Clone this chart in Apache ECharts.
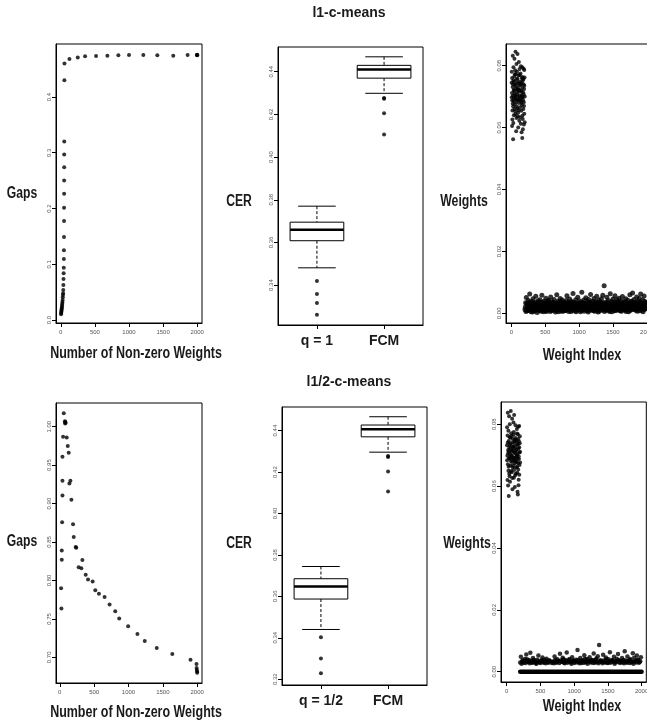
<!DOCTYPE html>
<html>
<head>
<meta charset="utf-8">
<script src="https://cdn.jsdelivr.net/npm/echarts@6/dist/echarts.min.js"></script>
<style>
  html, body { margin: 0; padding: 0; background: #fff; }
  #main { width: 647px; height: 728px; }
</style>
</head>
<body>
<div id="main"></div>
<script>
// ---- data ----
// gaps vs number of non-zero weights, l1
var gapPointsL1 = [
  [4,0.0105],[6,0.0125],[8,0.0142],[10,0.0165],[12,0.0185],[14,0.0210],[17,0.0235],[19,0.0262],
  [22,0.0290],[24,0.0322],[27,0.0359],[29,0.0407],[32,0.0448],[34,0.0478],[36,0.0538],[38,0.0628],
  [40,0.0735],[42,0.0837],[44,0.0939],[45,0.1094],[46,0.1250],[47,0.1489],[48,0.1776],[48,0.2015],
  [49,0.2266],[49,0.2500],[50,0.2740],[50,0.2966],[51,0.3200],[53,0.4300],[54,0.4600],[127,0.4680],
  [249,0.4710],[356,0.4730],[517,0.4735],[683,0.4740],[844,0.4747],[1000,0.4753],[1210,0.4753],
  [1415,0.4747],[1649,0.4740],[1859,0.4753],[1995,0.4753],[2000,0.4757],[2000,0.4748]
];
// gaps vs number of non-zero weights, l1/2
var gapPointsL12 = [
  [58,1.0174],[75,1.0070],[80,1.0060],[85,1.0050],[78,1.0040],[48,0.9870],[101,0.9860],[116,0.9750],
  [130,0.9660],[39,0.9610],[39,0.9296],[155,0.9296],[140,0.9260],[39,0.9104],[169,0.9050],[34,0.8757],
  [193,0.8730],[203,0.8565],[232,0.8435],[240,0.8425],[29,0.8390],[29,0.8270],[329,0.8265],[275,0.8170],
  [314,0.8160],[377,0.8074],[411,0.8013],[478,0.7987],[517,0.7874],[570,0.7826],[652,0.7783],[725,0.7687],
  [807,0.7600],[865,0.7504],[995,0.7404],[1130,0.7304],[1237,0.7213],[1411,0.7122],[1638,0.7043],
  [1903,0.6970],[19,0.7900],[24,0.7635],[1990,0.6913],[1992,0.6860],[1995,0.6835],[1998,0.6815],[2000,0.6800]
];

// CER boxplots: [lower whisker, q1, median, q3, upper whisker]
var cerGroupsL1 = ['q = 1', 'FCM'];
var cerBoxL1 = [
  [0.3481, 0.3608, 0.3659, 0.3695, 0.3770],
  [0.4299, 0.4370, 0.4411, 0.4430, 0.4470]
];
var cerOutL1 = [
  [0.3419, 0.3358, 0.3316, 0.3261],
  [0.4277, 0.4273, 0.4205, 0.4106]
];
var cerGroupsL12 = ['q = 1/2', 'FCM'];
var cerBoxL12 = [
  [0.3440, 0.3587, 0.3648, 0.3685, 0.3744],
  [0.4296, 0.4370, 0.4406, 0.4427, 0.4467]
];
var cerOutL12 = [
  [0.3402, 0.3300, 0.3229],
  [0.4277, 0.4273, 0.4203, 0.4106]
];

// weights, l1: first 200 indices
var weightClusterL1 = [
  [20,0.0832],[45,0.0822],[60,0.0845],[90,0.0838],[110,0.0812],[75,0.0805],[140,0.0798],[160,0.0795],
  [30,0.0795],[120,0.0789],[5,0.0780],[55,0.0785],[180,0.0790],[190,0.0786],
  [10,0.0605],[70,0.0588],[150,0.0585],[170,0.0595],[25,0.0562],[160,0.0566],[100,0.0600],[185,0.0610],
  [3,0.0745],[8,0.0712],[12,0.0688],[15,0.0655],[18,0.0731],[22,0.0702],[26,0.0668],[29,0.0752],
  [33,0.0721],[36,0.0640],[40,0.0694],[43,0.0765],[47,0.0710],[50,0.0675],[53,0.0738],[57,0.0652],
  [61,0.0699],[64,0.0772],[68,0.0725],[71,0.0683],[75,0.0631],[78,0.0744],[82,0.0708],[85,0.0662],
  [89,0.0758],[92,0.0690],[96,0.0727],[99,0.0648],[103,0.0715],[106,0.0768],[110,0.0679],[113,0.0736],
  [117,0.0622],[120,0.0702],[124,0.0749],[127,0.0666],[131,0.0720],[134,0.0775],[138,0.0687],[141,0.0741],
  [145,0.0654],[148,0.0705],[152,0.0760],[155,0.0673],[159,0.0729],[162,0.0638],[166,0.0696],[169,0.0753],
  [173,0.0714],[176,0.0660],[180,0.0740],[183,0.0682],[187,0.0725],[190,0.0645],[194,0.0762],[197,0.0700],
  [5,0.0698],[10,0.0760],[14,0.0626],[19,0.0677],[24,0.0740],[28,0.0615],[32,0.0686],[37,0.0748],
  [41,0.0719],[46,0.0660],[51,0.0772],[55,0.0704],[60,0.0643],[65,0.0733],[69,0.0691],[74,0.0755],
  [79,0.0668],[83,0.0780],[88,0.0719],[93,0.0637],[97,0.0700],[102,0.0744],[107,0.0656],[111,0.0722],
  [116,0.0689],[121,0.0770],[125,0.0633],[130,0.0695],[135,0.0738],[139,0.0612],[144,0.0717],[149,0.0680],
  [153,0.0745],[158,0.0700],[163,0.0763],[167,0.0628],[172,0.0688],[177,0.0757],[181,0.0708],[186,0.0670],
  [191,0.0735],[196,0.0617]
];
// weights, l1: small weights for indices 200..1990 (step 10) and 205..1995 (step 10)
var bandStartL1 = 200, bandStartL1b = 205, bandStepL1 = 10;
var weightBandL1 = [
  .0012,.0034,.0051,.0008,.0027,.0041,.0016,.0062,.0030,.0005,.0038,.0022,.0047,.0010,.0033,.0019,.0055,.0026,.0003,.0040,
  .0029,.0014,.0044,.0036,.0007,.0058,.0024,.0011,.0039,.0031,.0018,.0049,.0006,.0035,.0023,.0042,.0013,.0028,.0053,.0009,
  .0037,.0021,.0015,.0045,.0032,.0004,.0026,.0060,.0017,.0039,.0011,.0034,.0048,.0020,.0007,.0043,.0030,.0014,.0036,.0024,
  .0009,.0041,.0057,.0025,.0033,.0013,.0046,.0019,.0006,.0038,.0029,.0064,.0016,.0035,.0022,.0044,.0010,.0031,.0052,.0018,
  .0027,.0040,.0005,.0034,.0068,.0021,.0012,.0043,.0030,.0016,.0050,.0025,.0008,.0037,.0045,.0014,.0032,.0061,.0020,.0011,
  .0039,.0026,.0048,.0007,.0033,.0017,.0055,.0029,.0004,.0042,.0023,.0036,.0013,.0047,.0031,.0058,.0019,.0089,.0028,.0010,
  .0035,.0052,.0015,.0041,.0024,.0006,.0063,.0030,.0038,.0012,.0046,.0021,.0033,.0057,.0009,.0027,.0044,.0018,.0036,.0049,
  .0022,.0008,.0040,.0031,.0054,.0016,.0037,.0026,.0011,.0047,.0033,.0019,.0042,.0005,.0029,.0060,.0024,.0013,.0039,.0066,
  .0030,.0045,.0014,.0035,.0021,.0053,.0007,.0039,.0027,.0048,.0017,.0062,.0032,.0010,.0043,.0025,.0056,.0038,.0015,.0034
];
var weightBandL1b = [
  .0020,.0006,.0031,.0015,.0025,.0009,.0036,.0018,.0028,.0012,.0023,.0004,.0033,.0017,.0008,.0026,.0013,.0035,.0021,.0010,
  .0016,.0032,.0009,.0024,.0019,.0011,.0034,.0005,.0027,.0021,.0008,.0030,.0014,.0025,.0038,.0012,.0022,.0006,.0031,.0017,
  .0010,.0028,.0035,.0013,.0020,.0026,.0008,.0033,.0015,.0005,.0024,.0029,.0011,.0037,.0019,.0014,.0007,.0032,.0022,.0009,
  .0027,.0016,.0012,.0034,.0006,.0023,.0030,.0010,.0036,.0020,.0014,.0026,.0008,.0018,.0031,.0005,.0024,.0015,.0011,.0033,
  .0013,.0022,.0030,.0009,.0017,.0035,.0026,.0007,.0021,.0032,.0012,.0015,.0028,.0004,.0019,.0036,.0010,.0025,.0034,.0014,
  .0023,.0008,.0016,.0029,.0012,.0037,.0020,.0014,.0031,.0007,.0026,.0018,.0033,.0010,.0024,.0015,.0035,.0006,.0021,.0030,
  .0011,.0025,.0034,.0018,.0009,.0028,.0013,.0022,.0005,.0031,.0017,.0027,.0008,.0020,.0036,.0014,.0023,.0029,.0010,.0016,
  .0033,.0019,.0007,.0024,.0015,.0030,.0011,.0035,.0021,.0006,.0018,.0028,.0013,.0032,.0022,.0009,.0037,.0016,.0026,.0012,
  .0018,.0029,.0024,.0010,.0034,.0013,.0027,.0019,.0031,.0008,.0036,.0015,.0023,.0028,.0005,.0020,.0012,.0033,.0025,.0017
];

// weights, l1/2: first 200 indices
var weightClusterL12 = [
  [15,0.0837],[60,0.0843],[35,0.0826],[80,0.0818],[100,0.0806],[45,0.0800],[130,0.0797],[170,0.0792],
  [5,0.0790],[150,0.0785],[185,0.0794],[110,0.0830],[20,0.0602],[85,0.0590],[160,0.0582],[175,0.0603],
  [30,0.0568],[165,0.0573],[120,0.0597],
  [4,0.0732],[9,0.0698],[13,0.0764],[17,0.0671],[21,0.0717],[25,0.0650],[30,0.0746],[34,0.0689],
  [38,0.0725],[42,0.0632],[46,0.0758],[50,0.0703],[54,0.0667],[58,0.0739],[62,0.0681],[66,0.0771],
  [70,0.0712],[74,0.0645],[78,0.0728],[82,0.0694],[86,0.0752],[90,0.0660],[94,0.0719],[98,0.0684],
  [102,0.0766],[106,0.0627],[110,0.0707],[114,0.0743],[118,0.0673],[122,0.0731],[126,0.0691],[130,0.0756],
  [134,0.0640],[138,0.0714],[142,0.0678],[146,0.0749],[150,0.0700],[154,0.0662],[158,0.0736],[162,0.0688],
  [166,0.0768],[170,0.0654],[174,0.0722],[178,0.0696],[182,0.0744],[186,0.0637],[190,0.0709],[194,0.0761],
  [198,0.0676],
  [6,0.0684],[11,0.0620],[16,0.0741],[20,0.0706],[24,0.0779],[28,0.0663],[32,0.0713],[37,0.0640],
  [41,0.0692],[45,0.0733],[49,0.0614],[53,0.0757],[57,0.0690],[61,0.0722],[65,0.0649],[69,0.0700],
  [73,0.0762],[77,0.0678],[81,0.0626],[85,0.0715],[89,0.0740],[93,0.0666],[97,0.0727],[101,0.0693],
  [105,0.0775],[109,0.0652],[113,0.0686],[117,0.0750],[121,0.0708],[125,0.0635],[129,0.0724],[133,0.0680],
  [137,0.0745],[141,0.0661],[145,0.0718],[149,0.0697],[153,0.0770],[157,0.0643],[161,0.0705],[165,0.0734],
  [169,0.0674],[173,0.0752],[177,0.0621],[181,0.0688],[185,0.0726],[189,0.0668],[193,0.0739],[197,0.0711]
];
// weights, l1/2: the exactly-zero run and the small non-zero ones (indices 210..1990 / 200..1980, step 20)
var zeroRunL12 = [200, 2000];
var bandStartL12 = 210, bandStartL12b = 200, bandStepL12 = 20;
var weightBandL12 = [
  .0048,.0035,.0029,.0041,.0056,.0032,.0038,.0061,.0030,.0044,.0033,.0027,.0039,.0052,.0031,.0036,.0046,.0029,.0034,.0042,
  .0031,.0037,null,.0028,.0033,.0049,.0030,.0040,.0035,.0058,.0032,.0045,.0029,.0038,.0062,.0034,.0041,.0030,.0047,.0036,
  .0033,.0039,.0070,.0031,.0044,.0028,.0036,.0053,.0030,.0041,.0035,.0047,.0032,.0038,.0059,.0029,.0043,.0050,.0086,.0037,
  .0034,.0055,.0031,.0046,.0029,.0040,.0063,.0033,.0037,.0048,.0030,.0042,.0057,.0035,.0031,.0044,.0038,.0066,.0032,.0049,
  .0036,.0041,.0030,.0060,.0045,.0033,.0052,.0039,.0031,.0047
];
var weightBandL12b = [
  .0030,.0026,.0037,.0033,.0028,.0040,.0031,.0027,.0035,.0029,.0038,.0032,.0026,.0034,.0030,.0028,.0036,.0031,.0039,.0027,
  .0033,.0029,.0035,null,.0031,.0027,.0038,.0030,.0034,.0028,.0036,.0032,.0040,.0027,.0033,.0029,.0037,.0031,.0026,.0035,
  .0028,.0034,.0030,.0038,.0027,.0032,.0036,.0029,.0041,.0031,.0026,.0035,.0030,.0037,.0028,.0033,.0039,.0031,.0027,.0034,
  .0031,.0027,.0036,.0030,.0040,.0028,.0033,.0029,.0037,.0032,.0026,.0035,.0031,.0038,.0028,.0034,.0030,.0027,.0036,.0029,
  .0033,.0028,.0037,.0031,.0026,.0035,.0030,.0038,.0029,.0034
];

// tick positions
var indexTicks = [0, 500, 1000, 1500, 2000];
var gapTicksL1 = [0, 0.1, 0.2, 0.3, 0.4];
var gapTicksL12 = [0.70, 0.75, 0.80, 0.85, 0.90, 0.95, 1.00];
var cerTicksL1 = [0.34, 0.36, 0.38, 0.40, 0.42, 0.44];
var cerTicksL12 = [0.32, 0.34, 0.36, 0.38, 0.40, 0.42, 0.44];
var weightTicks = [0, 0.02, 0.04, 0.06, 0.08];

// ---- chart ----
var FONT = '"Liberation Sans", Arial, sans-serif';
var chart = echarts.init(document.getElementById('main'));

function fixed(d) {
  return function (v) { return d === 0 ? String(Math.round(v)) : v.toFixed(d); };
}

function valAxis(grid, min, max, ticks, fmt, isY) {
  return {
    type: 'value', gridIndex: grid, min: min, max: max, scale: true,
    splitLine: { show: false },
    axisLine: { show: true, onZero: false, lineStyle: { color: '#000', width: 1 } },
    axisTick: { show: true, length: 4, customValues: ticks, lineStyle: { color: '#000', width: 1 } },
    axisLabel: {
      show: true, customValues: ticks, formatter: fmt, fontSize: 6, color: '#555',
      fontFamily: FONT, rotate: isY ? 90 : 0, margin: isY ? 4 : 6
    }
  };
}

function catAxis(grid, names) {
  return {
    type: 'value', gridIndex: grid, min: 0.42, max: 2.58,
    splitLine: { show: false },
    axisLine: { show: true, onZero: false, lineStyle: { color: '#000' } },
    axisTick: { show: true, length: 4, customValues: [1, 2], lineStyle: { color: '#000' } },
    axisLabel: {
      show: true, customValues: [1, 2], margin: 9,
      formatter: function (v) { return names[Math.round(v) - 1]; },
      fontSize: 14, fontWeight: 'bold', color: '#1a1a1a', fontFamily: FONT
    }
  };
}

function gridBox(l, t, w, h) {
  return {
    left: l, top: t, width: w, height: h, show: true, borderColor: '#000', borderWidth: 1,
    containLabel: false, outerBoundsMode: 'none'
  };
}

function dots(xi, pts, size) {
  return {
    type: 'scatter', xAxisIndex: xi, yAxisIndex: xi, data: pts, symbolSize: size || 4,
    itemStyle: { color: '#000' }, silent: true, animation: false
  };
}

function bandPts(start, step, vals) {
  var out = [];
  vals.forEach(function (v, i) { if (v !== null) out.push([start + i * step, v]); });
  return out;
}

function outPts(outs) {
  var out = [];
  outs.forEach(function (arr, g) { arr.forEach(function (v) { out.push([g + 1, v]); }); });
  return out;
}

function boxRender(params, api) {
  var x = api.value(0);
  var lo = api.coord([x, api.value(1)]);
  var q1 = api.coord([x, api.value(2)]);
  var md = api.coord([x, api.value(3)]);
  var q3 = api.coord([x, api.value(4)]);
  var hi = api.coord([x, api.value(5)]);
  var half = api.size([0.4, 0])[0];
  var cap = api.size([0.28, 0])[0];
  var cx = lo[0];
  var solid = { stroke: '#000', lineWidth: 1 };
  var dash = { stroke: '#000', lineWidth: 1, lineDash: [3, 2] };
  return {
    type: 'group',
    children: [
      { type: 'line', shape: { x1: cx, y1: hi[1], x2: cx, y2: q3[1] }, style: dash },
      { type: 'line', shape: { x1: cx, y1: q1[1], x2: cx, y2: lo[1] }, style: dash },
      { type: 'line', shape: { x1: cx - cap, y1: hi[1], x2: cx + cap, y2: hi[1] }, style: solid },
      { type: 'line', shape: { x1: cx - cap, y1: lo[1], x2: cx + cap, y2: lo[1] }, style: solid },
      { type: 'rect', shape: { x: cx - half, y: q3[1], width: 2 * half, height: q1[1] - q3[1] },
        style: { fill: '#fff', stroke: '#000', lineWidth: 1 } },
      { type: 'line', shape: { x1: cx - half, y1: md[1], x2: cx + half, y2: md[1] },
        style: { stroke: '#000', lineWidth: 2.5 } }
    ]
  };
}

function boxSeries(xi, stats) {
  return {
    type: 'custom', xAxisIndex: xi, yAxisIndex: xi, renderItem: boxRender, animation: false,
    data: stats.map(function (s, i) { return [i + 1].concat(s); }),
    encode: { x: 0, y: [1, 2, 3, 4, 5] }
  };
}

// bold text, squeezed horizontally to mimic the condensed face of the original
function label(text, x, y, size, squeeze) {
  return {
    type: 'text', x: x, y: y, silent: true, scaleX: squeeze || 1,
    style: {
      text: text, font: 'bold ' + size + 'px ' + FONT, fill: '#1a1a1a',
      align: 'center', verticalAlign: 'middle'
    }
  };
}

var option = {
  backgroundColor: '#fff',
  animation: false,
  grid: [
    gridBox(56, 44, 146, 279),
    gridBox(278, 47, 145, 278),
    gridBox(506, 44, 146.2, 279),
    gridBox(56, 403, 146, 280),
    gridBox(282, 407, 145, 278),
    gridBox(501, 402, 145.3, 280)
  ],
  xAxis: [
    valAxis(0, -70, 2070, indexTicks, fixed(0), false),
    catAxis(1, cerGroupsL1),
    valAxis(2, -80, 2080, indexTicks, fixed(0), false),
    valAxis(3, -55, 2070, indexTicks, fixed(0), false),
    catAxis(4, cerGroupsL12),
    valAxis(5, -85, 2070, indexTicks, fixed(0), false)
  ],
  yAxis: [
    valAxis(0, -0.0054, 0.495, gapTicksL1, fixed(1), true),
    valAxis(1, 0.3213, 0.4516, cerTicksL1, fixed(2), true),
    valAxis(2, -0.00313, 0.087, weightTicks, fixed(2), true),
    valAxis(3, 0.6666, 1.0308, gapTicksL12, fixed(2), true),
    valAxis(4, 0.3172, 0.4514, cerTicksL12, fixed(2), true),
    valAxis(5, -0.00333, 0.0872, weightTicks, fixed(2), true)
  ],
  series: [
    dots(0, gapPointsL1),
    boxSeries(1, cerBoxL1),
    dots(1, outPts(cerOutL1)),
    dots(2, weightClusterL1),
    dots(2, bandPts(bandStartL1, bandStepL1, weightBandL1), 5),
    dots(2, bandPts(bandStartL1b, bandStepL1, weightBandL1b), 5),
    dots(3, gapPointsL12),
    boxSeries(4, cerBoxL12),
    dots(4, outPts(cerOutL12)),
    dots(5, weightClusterL12),
    {
      type: 'line', xAxisIndex: 5, yAxisIndex: 5, silent: true, animation: false, symbol: 'none',
      data: [[zeroRunL12[0], 0], [zeroRunL12[1], 0]],
      lineStyle: { color: '#000', width: 4.5, cap: 'round' }
    },
    dots(5, bandPts(bandStartL12, bandStepL12, weightBandL12), 4.5),
    dots(5, bandPts(bandStartL12b, bandStepL12, weightBandL12b), 4.5)
  ],
  graphic: [
    label('l1-c-means', 349, 13, 14),
    label('Gaps', 22, 194, 16, 0.76),
    label('Number of Non-zero Weights', 136, 354, 16, 0.78),
    label('CER', 239, 202, 16, 0.76),
    label('Weights', 464, 202, 16, 0.77),
    label('Weight Index', 582, 356, 16, 0.79),
    label('l1/2-c-means', 349, 382, 14),
    label('Gaps', 22, 542, 16, 0.76),
    label('Number of Non-zero Weights', 136, 713, 16, 0.78),
    label('CER', 239, 544, 16, 0.76),
    label('Weights', 467, 544, 16, 0.77),
    label('Weight Index', 582, 707, 16, 0.79)
  ]
};

chart.setOption(option);
</script>
</body>
</html>
